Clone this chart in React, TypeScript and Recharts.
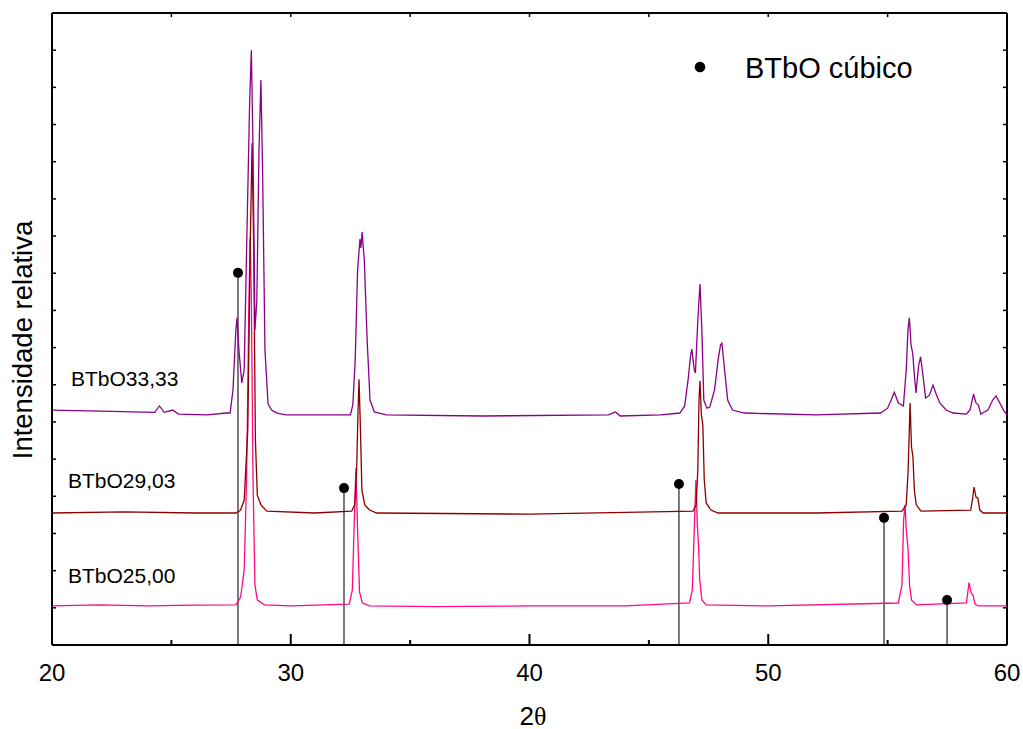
import React from 'react';
import { ComposedChart, Line, XAxis, YAxis, ReferenceLine, ReferenceDot } from 'recharts';

// 2θ ticks
const xTicks = [20, 25, 30, 35, 40, 45, 50, 55, 60];
const yTicks = [0, 1, 2, 3, 4, 5, 6, 7, 8, 9, 10, 11, 12, 13, 14, 15, 16, 17];
const xMin = 20;
const xMax = 60;
const yMax = 17;

const seriesNames = ['BTbO25,00', 'BTbO29,03', 'BTbO33,33'];
const seriesColors = ['#ff0a84', '#8b0000', '#8a008a'];

// [2θ, relative intensity]
const btbo2500: [number, number][] = [
  [20, 1.05], [22, 1.08], [24, 1.05], [26, 1.07], [27.7, 1.08], [27.9, 1.29], [28.05, 2.02], [28.15, 4.44],
  [28.25, 9.28], [28.3, 10.97], [28.35, 9.28], [28.42, 4.44], [28.5, 1.61], [28.6, 1.21], [28.9, 1.08],
  [30, 1.05], [32.45, 1.1], [32.58, 1.48], [32.65, 3.09], [32.73, 4.76], [32.8, 3.09], [32.88, 1.43],
  [33.0, 1.13], [33.3, 1.05], [36, 1.03], [40, 1.05], [44, 1.05], [46.7, 1.13], [46.82, 1.48], [46.9, 3.09],
  [46.97, 4.44], [47.03, 3.23], [47.08, 2.69], [47.13, 1.75], [47.22, 1.21], [47.4, 1.08], [50, 1.05],
  [55.45, 1.13], [55.6, 1.61], [55.67, 3.36], [55.73, 3.77], [55.78, 3.09], [55.85, 2.64], [55.92, 1.61],
  [56.0, 1.21], [56.2, 1.08], [58.3, 1.13], [58.41, 1.67], [58.5, 1.4], [58.58, 1.34], [58.66, 1.1],
  [58.8, 1.05], [60, 1.05],
];

const btbo2903: [number, number][] = [
  [20, 3.55], [23, 3.58], [26, 3.55], [27.7, 3.55], [27.9, 3.63], [28.05, 3.9], [28.2, 5.78], [28.3, 10.62],
  [28.38, 13.5], [28.45, 10.62], [28.52, 5.51], [28.6, 4.03], [28.75, 3.77], [29.0, 3.6], [31, 3.55],
  [32.55, 3.6], [32.68, 3.77], [32.76, 4.71], [32.82, 6.35], [32.86, 7.15], [32.92, 5.78], [32.98, 4.17],
  [33.1, 3.77], [33.3, 3.63], [33.6, 3.55], [40, 3.52], [46.85, 3.6], [46.98, 3.77], [47.05, 4.71],
  [47.1, 6.59], [47.14, 7.1], [47.2, 6.19], [47.26, 5.92], [47.32, 4.44], [47.4, 3.82], [47.6, 3.63],
  [47.9, 3.55], [52, 3.55], [55.6, 3.6], [55.78, 3.77], [55.86, 4.71], [55.94, 6.51], [56.0, 5.33],
  [56.06, 5.06], [56.12, 4.17], [56.2, 3.77], [56.4, 3.6], [58.48, 3.63], [58.55, 3.9], [58.62, 4.25],
  [58.7, 3.98], [58.78, 3.95], [58.86, 3.63], [59.0, 3.55], [60, 3.55],
];

const btbo3333: [number, number][] = [
  [20, 6.32], [22, 6.29], [24.3, 6.26], [24.5, 6.43], [24.7, 6.26], [25.05, 6.32], [25.3, 6.21], [26.5, 6.19],
  [27.3, 6.24], [27.46, 6.24], [27.58, 6.86], [27.7, 8.47], [27.75, 8.8], [27.83, 7.93], [27.95, 7.05],
  [28.05, 7.4], [28.15, 10.62], [28.28, 14.66], [28.35, 16.0], [28.42, 13.31], [28.5, 8.47], [28.58, 9.28],
  [28.67, 13.31], [28.75, 15.2], [28.82, 12.78], [28.92, 7.93], [29.05, 6.48], [29.2, 6.32], [29.42, 6.24],
  [29.8, 6.19], [32.5, 6.19], [32.6, 6.46], [32.7, 7.67], [32.8, 10.09], [32.9, 10.92], [32.94, 10.68],
  [32.99, 11.11], [33.08, 10.36], [33.2, 8.2], [33.32, 6.59], [33.5, 6.27], [34, 6.19], [38, 6.16],
  [43.3, 6.19], [43.6, 6.27], [43.8, 6.16], [45.5, 6.19], [46.3, 6.24], [46.5, 6.43], [46.65, 7.18],
  [46.75, 7.8], [46.8, 7.96], [46.9, 7.4], [46.95, 7.32], [47.05, 8.74], [47.14, 9.71], [47.22, 8.47],
  [47.3, 6.59], [47.43, 6.37], [47.55, 6.4], [47.75, 6.86], [47.9, 7.67], [48.0, 8.07], [48.06, 8.12],
  [48.15, 7.53], [48.3, 6.59], [48.5, 6.32], [49, 6.24], [52, 6.19], [54.7, 6.24], [55.0, 6.37],
  [55.15, 6.59], [55.28, 6.8], [55.45, 6.51], [55.66, 6.43], [55.78, 7.4], [55.85, 8.47], [55.91, 8.8],
  [55.98, 8.07], [56.05, 7.85], [56.12, 7.26], [56.19, 6.78], [56.3, 7.53], [56.38, 7.75], [56.48, 7.26],
  [56.59, 6.64], [56.75, 6.72], [56.9, 6.99], [57.05, 6.72], [57.19, 6.51], [57.45, 6.32], [57.74, 6.24],
  [58.3, 6.21], [58.45, 6.32], [58.6, 6.75], [58.7, 6.51], [58.8, 6.46], [58.9, 6.21], [59.2, 6.32],
  [59.4, 6.59], [59.54, 6.7], [59.7, 6.51], [59.85, 6.32], [60, 6.19],
];

// BTbO cúbico reference reflections
const refPositions = [27.79, 32.23, 46.26, 54.85, 57.49];
const refHeights = [10.01, 4.22, 4.33, 3.42, 1.21];

const legendLabel = 'BTbO cúbico';
const yTitle = 'Intensidade relativa';

const toRows = (arr: [number, number][]) => arr.map(([t, v]) => ({ t, v }));
const seriesData = [toRows(btbo2500), toRows(btbo2903), toRows(btbo3333)];

const SANS = '"Liberation Sans", Arial, sans-serif';

const BottomTick = (props: any) => {
  const { x, y, payload } = props;
  const major = payload.value % 10 === 0;
  return (
    <g>
      <line x1={x} x2={x} y1={y} y2={y - (major ? 11 : 5)} stroke="#000" strokeWidth={2} />
      {major && (
        <text x={x} y={y + 27} textAnchor="middle" dominantBaseline="central" fontSize={24} fontFamily={SANS} fill="#000">
          {payload.value}
        </text>
      )}
    </g>
  );
};

const LeftTick = (props: any) => {
  const { x, y } = props;
  return <line x1={x} x2={x + 4} y1={y} y2={y} stroke="#000" strokeWidth={1.5} />;
};

// inner tick lengths in axis units (≈4 px)
const topTickLen = 0.11;
const rightTickLen = 0.17;

export default function App() {
  return (
    <div style={{ position: 'relative', width: 1023, height: 729 }}>
      <style>{'html,body{margin:0;padding:0;overflow:hidden} .recharts-surface{overflow:visible}'}</style>
      <ComposedChart width={1023} height={729} margin={{ top: 13, right: 16, bottom: 0, left: 0 }}>
        <XAxis
          xAxisId="b"
          dataKey="t"
          type="number"
          domain={[xMin, xMax]}
          ticks={xTicks}
          interval={0}
          allowDataOverflow
          height={84}
          tickSize={0}
          tickMargin={0}
          tickLine={false}
          axisLine={{ stroke: '#000', strokeWidth: 2 }}
          tick={<BottomTick />}
        />
        <YAxis
          yAxisId="l"
          type="number"
          domain={[0, yMax]}
          ticks={yTicks}
          interval={0}
          allowDataOverflow
          width={52}
          tickSize={0}
          tickMargin={0}
          tickLine={false}
          axisLine={{ stroke: '#000', strokeWidth: 2 }}
          tick={<LeftTick />}
        />
        {/* top and right frame */}
        <ReferenceLine xAxisId="b" yAxisId="l" y={yMax} stroke="#000" strokeWidth={2} ifOverflow="visible" />
        <ReferenceLine xAxisId="b" yAxisId="l" x={xMax} stroke="#000" strokeWidth={2} ifOverflow="visible" />
        {xTicks.map((t) => (
          <ReferenceLine
            key={'tt' + t}
            xAxisId="b"
            yAxisId="l"
            segment={[{ x: t, y: yMax }, { x: t, y: yMax - topTickLen }]}
            stroke="#000"
            strokeWidth={1.5}
            ifOverflow="visible"
          />
        ))}
        {yTicks.map((v) => (
          <ReferenceLine
            key={'rt' + v}
            xAxisId="b"
            yAxisId="l"
            segment={[{ x: xMax, y: v }, { x: xMax - rightTickLen, y: v }]}
            stroke="#000"
            strokeWidth={1.5}
            ifOverflow="visible"
          />
        ))}
        {refPositions.map((p, i) => (
          <ReferenceLine
            key={'rl' + i}
            xAxisId="b"
            yAxisId="l"
            segment={[{ x: p, y: 0 }, { x: p, y: refHeights[i] }]}
            stroke="#222"
            strokeWidth={1.2}
            ifOverflow="visible"
          />
        ))}
        {seriesData.map((d, i) => (
          <Line
            key={seriesNames[i]}
            name={seriesNames[i]}
            data={d}
            dataKey="v"
            xAxisId="b"
            yAxisId="l"
            type="linear"
            stroke={seriesColors[i]}
            strokeWidth={1.3}
            dot={false}
            activeDot={false}
            isAnimationActive={false}
          />
        ))}
        {refPositions.map((p, i) => (
          <ReferenceDot
            key={'rd' + i}
            xAxisId="b"
            yAxisId="l"
            x={p}
            y={refHeights[i]}
            r={5}
            fill="#000"
            stroke="none"
            ifOverflow="visible"
          />
        ))}
      </ComposedChart>
      <svg
        width={1023}
        height={729}
        style={{ position: 'absolute', left: 0, top: 0, pointerEvents: 'none' }}
      >
        <text x={22} y={340} transform="rotate(-90 22 340)" textAnchor="middle" dominantBaseline="central" fontSize={27.5} fontFamily={SANS} fill="#000">
          {yTitle}
        </text>
        <text x={533} y={716} textAnchor="middle" dominantBaseline="central" fontSize={26} fill="#000">
          <tspan fontFamily={SANS}>2</tspan>
          <tspan fontFamily='"Liberation Serif", "DejaVu Serif", serif'>θ</tspan>
        </text>
        <text x={71} y={378} dominantBaseline="central" fontSize={21} fontFamily={SANS} fill="#000">{seriesNames[2]}</text>
        <text x={68} y={480} dominantBaseline="central" fontSize={21} fontFamily={SANS} fill="#000">{seriesNames[1]}</text>
        <text x={68} y={575} dominantBaseline="central" fontSize={21} fontFamily={SANS} fill="#000">{seriesNames[0]}</text>
        <circle cx={700} cy={67} r={5.3} fill="#000" />
        <text x={745} y={68} dominantBaseline="central" fontSize={29} fontFamily={SANS} fill="#000">{legendLabel}</text>
      </svg>
    </div>
  );
}
